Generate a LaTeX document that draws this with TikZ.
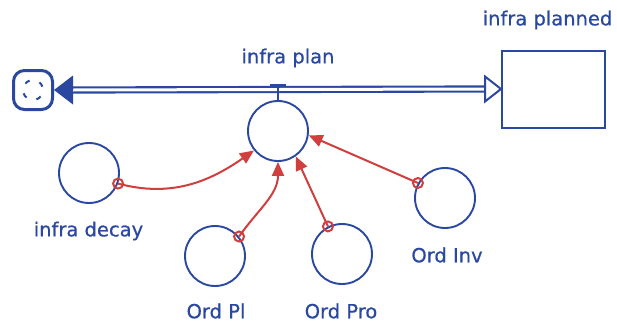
\documentclass[tikz,border=0pt]{standalone}
\usepackage{fontspec}
\setmainfont{DejaVu Sans}[FakeBold=0.6]
\usetikzlibrary{arrows.meta}
\definecolor{flowblue}{RGB}{42,72,160}
\definecolor{linkred}{RGB}{208,62,62}
\tikzset{
  lbl/.style={text=flowblue, font=\fontsize{19.5}{22}\selectfont, inner sep=0pt},
  aux/.style={circle, draw=flowblue, line width=1.9pt, minimum size=60pt, inner sep=0pt},
  stockbox/.style={rectangle, draw=flowblue, line width=2pt, minimum width=103pt, minimum height=77pt, inner sep=0pt},
  cloudbox/.style={rectangle, rounded corners=11pt, draw=flowblue, line width=3pt, minimum size=39pt, inner sep=0pt},
  pipe/.style={draw=flowblue, line width=2.1pt, double=white, double distance=3pt},
  link/.style={draw=linkred, line width=2pt, -{Triangle[length=14pt,width=12pt]}},
  linkdot/.style={circle, draw=linkred, line width=2pt, minimum size=10pt, inner sep=0pt}
}
\begin{document}
\begin{tikzpicture}[x=1pt,y=1pt]
\useasboundingbox (0,0) rectangle (617,-324);

% stock, source cloud and valve
\node[stockbox] (planned) at (553.5,-89) {};
\node[lbl] at (547.5,-20) {infra planned};
\node[cloudbox] (src) at (33,-90) {};
\foreach \a in {20,110,200,290}
  \draw[flowblue, line width=2pt] (src.center) ++(\a:10) arc[start angle=\a, end angle=\a+30, radius=10];
\node[aux] (valve) at (278,-131) {};
\node[lbl] at (288,-58) {infra plan};

% flow pipe with its two heads
\draw[pipe] ([xshift=19pt]src.east) -- ([xshift=-16pt]planned.west);
\fill[flowblue] (src.east) -- ++(19,14.5) -- ++(0,-29) -- cycle;
\draw[flowblue, line width=2pt, fill=white, line join=miter]
  (planned.west) -- ++(-16,12.5) -- ++(0,-25) -- cycle;
\draw[flowblue, line width=2.1pt] (valve.north) -- ++(0,15);
\draw[flowblue, line width=2.1pt] ([yshift=15pt]valve.north) ++(-8,0) -- ++(16,0);

% auxiliaries
\node[aux] (decay) at (89,-173) {};
\node[lbl] at (88.5,-231) {infra decay};
\node[aux] (ordpl) at (215,-256) {};
\node[lbl] at (216,-311) {Ord Pl};
\node[aux] (ordpro) at (342,-254) {};
\node[lbl] at (341,-311) {Ord Pro};
\node[aux] (ordinv) at (445,-198) {};
\node[lbl] at (447,-255) {Ord Inv};

% information links
\node[linkdot] (d1) at (decay.-20) {};
\node[linkdot] (d2) at (ordpl.39) {};
\node[linkdot] (d3) at (ordpro.117) {};
\node[linkdot] (d4) at (ordinv.151) {};
\draw[link] (d1.center) to[out=-15, in=215] (valve.-141);
\draw[link] (d2.center) to[out=55, in=-90] (valve.-90);
\draw[link] (d3.center) -- (valve.-55);
\draw[link] (d4.center) -- (valve.-8);
\end{tikzpicture}
\end{document}
